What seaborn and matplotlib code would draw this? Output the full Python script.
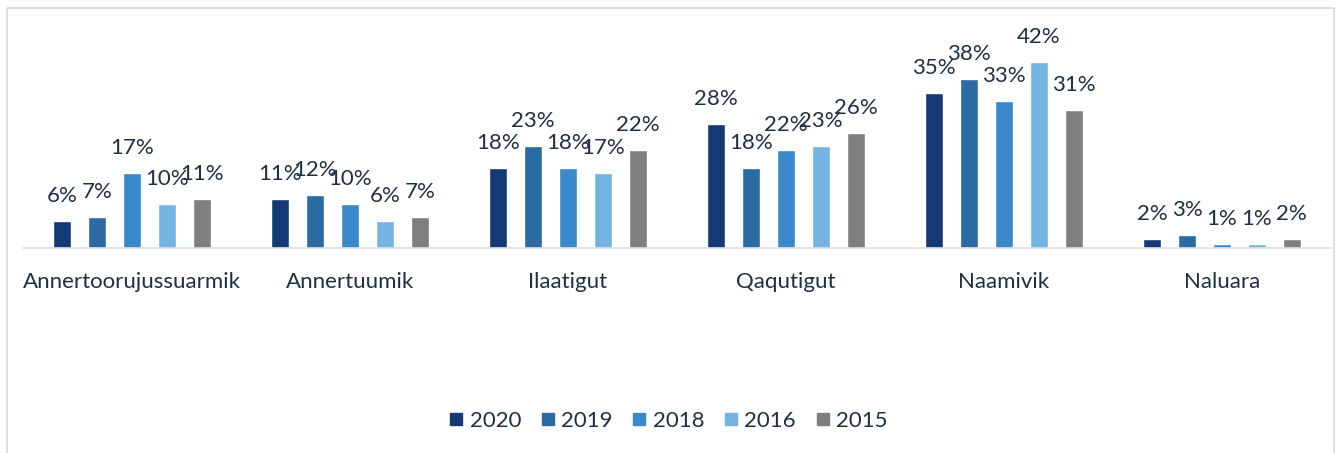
import matplotlib
matplotlib.use("Agg")
import matplotlib.pyplot as plt
import seaborn as sns
import pandas as pd
from matplotlib.lines import Line2D

# Datos
categorias = ["Annertoorujussuarmik", "Annertuumik", "Ilaatigut", "Qaqutigut", "Naamivik", "Naluara"]
anni = ["2020", "2019", "2018", "2016", "2015"]
v2020 = [6, 11, 18, 28, 35, 2]
v2019 = [7, 12, 23, 18, 38, 3]
v2018 = [17, 10, 18, 22, 33, 1]
v2016 = [10, 6, 17, 23, 42, 1]
v2015 = [11, 7, 22, 26, 31, 2]

colores = ["#143A76", "#2B6AA3", "#3A8ACB", "#74B4E2", "#7F7F7F"]
texto = "#1F2F45"

filas = []
for anio, vals in zip(anni, [v2020, v2019, v2018, v2016, v2015]):
    for cat, v in zip(categorias, vals):
        filas.append({"cat": cat, "anio": anio, "val": v})
df = pd.DataFrame(filas)

sns.set_style("white")
plt.rcParams["font.family"] = ["Lato", "DejaVu Sans"]

W, H = 1336, 453
fig = plt.figure(figsize=(W / 100, H / 100), dpi=100)
ax = fig.add_axes([23 / W, (H - 248) / H, (1331 - 23) / W, (248 - 26) / H])

sns.barplot(data=df, x="cat", y="val", hue="anio", hue_order=anni,
            palette=colores, width=0.8, gap=0.48, ax=ax, legend=False,
            saturation=1, errorbar=None)

for cont in ax.containers:
    for bar in cont:
        h = bar.get_height()
        ax.annotate(f"{h:.0f}%", (bar.get_x() + bar.get_width() / 2, h),
                    xytext=(0, 18), textcoords="offset points",
                    ha="center", va="center", fontsize=16, color=texto)

ax.set_ylim(0, 50)
ax.set_xlim(-0.5, len(categorias) - 0.5)
ax.set_xlabel("")
ax.set_ylabel("")
ax.set_yticks([])
ax.tick_params(axis="x", length=0, pad=17, labelsize=16, labelcolor=texto)
for s in ["top", "right", "left"]:
    ax.spines[s].set_visible(False)
ax.spines["bottom"].set_color("#D5DFEC")
ax.spines["bottom"].set_linewidth(1.2)

handles = [Line2D([0], [0], marker="s", linestyle="", markersize=9,
                  markerfacecolor=c, markeredgecolor=c) for c in colores]
fig.legend(handles, anni, loc="center", bbox_to_anchor=(0.5, (H - 421) / H),
           ncol=5, frameon=False, fontsize=16, labelcolor=texto,
           handletextpad=0.25, columnspacing=0.85, handlelength=0.7)

# marco exterior
fig.add_artist(Line2D([7 / W, 7 / W, 1334 / W, 1334 / W],
                      [0, (H - 8) / H, (H - 8) / H, 0],
                      transform=fig.transFigure, color="#D9D9D9", linewidth=1.2))

fig.savefig("out.png", dpi=100)
